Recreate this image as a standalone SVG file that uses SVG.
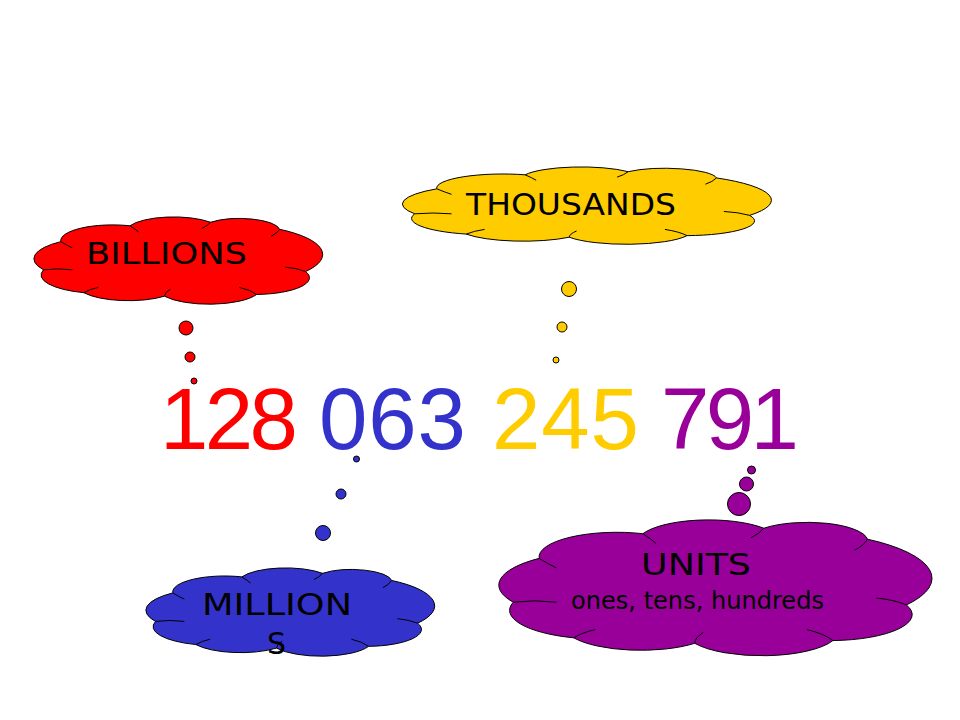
<svg xmlns="http://www.w3.org/2000/svg" xmlns:xlink="http://www.w3.org/1999/xlink" width="960" height="720" viewBox="0 0 960 720">
<style>
.cloud{stroke:#000;stroke-width:1}
.inner{fill:none;stroke:#000;stroke-width:1}
.lbl{font-family:"DejaVu Sans","Liberation Sans",sans-serif;font-size:30px;fill:#000}
.sub{font-size:25px}
.num{font-family:"Liberation Sans","DejaVu Sans",sans-serif;font-size:87px}
.dot{stroke:#000;stroke-width:1}
</style>
<defs>
<path id="cloudShape" vector-effect="non-scaling-stroke" d="M4,60 A25,25 0 0 1 10,28 A18,18 0 0 1 34,10 A16.5,16.5 0 0 1 62,6 A14,14 0 0 1 86,14 A34.8,34.8 0 0 1 95,62 A19,19 0 0 1 78,88 A17.8,17.8 0 0 1 46,90 A17.8,17.8 0 0 1 18,86 A21,21 0 0 1 4,60 Z"/>
<path id="cloudInner" vector-effect="non-scaling-stroke" d="M4,60 Q9,58 14,60 M10,28 Q12,32 14,35 M34,10 Q36,14 37,17 M62,6 Q61,10 59,13 M86,14 Q85,19 83,22 M95,62 Q92,58 88,57 M78,88 Q76,83 72,80 M46,90 Q46,86 48,82 M18,86 Q20,82 23,80"/>
</defs>
<rect width="960" height="720" fill="#fff"/>

<g id="billions">
<use href="#cloudShape" class="cloud" fill="#FF0000" transform="translate(32,217) scale(2.88,0.88)"/>
<use href="#cloudInner" class="inner" transform="translate(32,217) scale(2.88,0.88)"/>
<text class="lbl" x="86" y="264" textLength="161" lengthAdjust="spacingAndGlyphs">BILLIONS</text>
</g>

<g id="thousands">
<use href="#cloudShape" class="cloud" fill="#FFCC00" transform="translate(400,167) scale(3.68,0.78)"/>
<use href="#cloudInner" class="inner" transform="translate(400,167) scale(3.68,0.78)"/>
<text class="lbl" x="466" y="215" textLength="210" lengthAdjust="spacingAndGlyphs">THOUSANDS</text>
</g>

<g id="millions">
<use href="#cloudShape" class="cloud" fill="#3333CC" transform="translate(144,568) scale(2.88,0.89)"/>
<use href="#cloudInner" class="inner" transform="translate(144,568) scale(2.88,0.89)"/>
<text class="lbl" x="202" y="615" textLength="150" lengthAdjust="spacingAndGlyphs">MILLION</text>
<text class="lbl" x="267" y="654">S</text>
</g>

<g id="units">
<use href="#cloudShape" class="cloud" fill="#990099" transform="translate(496,520) scale(4.32,1.37)"/>
<use href="#cloudInner" class="inner" transform="translate(496,520) scale(4.32,1.37)"/>
<text class="lbl" x="641" y="575" textLength="110" lengthAdjust="spacingAndGlyphs">UNITS</text>
<text class="lbl sub" x="571" y="609" textLength="253" lengthAdjust="spacingAndGlyphs">ones, tens, hundreds</text>
</g>

<g id="connectors">
<circle class="dot" cx="186" cy="328" r="7" fill="#FF0000"/>
<circle class="dot" cx="190" cy="357" r="5" fill="#FF0000"/>
<circle class="dot" cx="194" cy="381" r="3" fill="#FF0000"/>
<circle class="dot" cx="569" cy="289" r="7.5" fill="#FFCC00"/>
<circle class="dot" cx="562" cy="327" r="5" fill="#FFCC00"/>
<circle class="dot" cx="556" cy="360" r="3" fill="#FFCC00"/>
<circle class="dot" cx="356.5" cy="459" r="3" fill="#3333CC"/>
<circle class="dot" cx="341" cy="494" r="5" fill="#3333CC"/>
<circle class="dot" cx="323" cy="533" r="7.5" fill="#3333CC"/>
<circle class="dot" cx="751.5" cy="470" r="4" fill="#990099"/>
<circle class="dot" cx="746.5" cy="484" r="7" fill="#990099"/>
<circle class="dot" cx="739" cy="504" r="11.5" fill="#990099"/>
</g>

<g id="number">
<text class="num" x="160" y="449" textLength="138" fill="#FF0000">128</text>
<text class="num" x="319" y="449" textLength="147" fill="#3333CC">063</text>
<text class="num" x="492" y="449" textLength="147" fill="#FFCC00">245</text>
<text class="num" x="661" y="449" textLength="138" fill="#990099">791</text>
</g>
</svg>
